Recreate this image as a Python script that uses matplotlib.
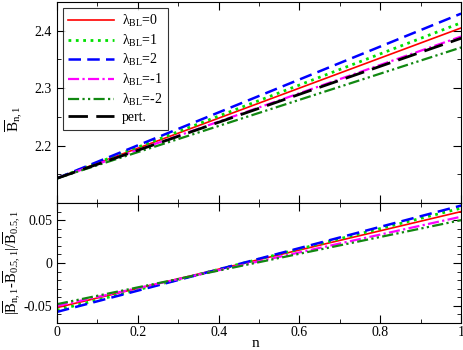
import matplotlib
matplotlib.use("Agg")
import matplotlib.pyplot as plt
from matplotlib.ticker import MultipleLocator, FixedLocator

plt.rcParams['font.family'] = ['Liberation Serif', 'DejaVu Serif']
plt.rcParams['mathtext.fontset'] = 'custom'
plt.rcParams['mathtext.rm'] = 'Liberation Serif'
plt.rcParams['mathtext.it'] = 'Liberation Serif:italic'
plt.rcParams['font.size'] = 10

# n values (endpoints, lines are straight)
n = [0.0, 1.0]

labels = ['λ$_{\\rm BL}$=0', 'λ$_{\\rm BL}$=1', 'λ$_{\\rm BL}$=2',
          'λ$_{\\rm BL}$=-1', 'λ$_{\\rm BL}$=-2', 'pert.']
colors = ['#ff0000', '#00e000', '#0000ff', '#ff00ff', '#118811', '#000000']
styles = ['-', ':', (0, (5, 2.5)), (0, (5, 1.5, 1, 1.5)),
          (0, (5, 1.5, 1, 1.5, 1, 1.5)), (0, (7, 3))]
widths = [1.2, 2.0, 1.8, 1.6, 1.6, 2.0]

# top panel: B_{n,1}
b_lam0 = [2.143, 2.405]
b_lam1 = [2.143, 2.414]
b_lam2 = [2.143, 2.430]
b_lamm1 = [2.143, 2.390]
b_lamm2 = [2.143, 2.371]
b_pert = [2.143, 2.387]

# bottom panel: relative difference
r_lam0 = [-0.052, 0.060]
r_lam1 = [-0.055, 0.064]
r_lam2 = [-0.057, 0.067]
r_lamm1 = [-0.050, 0.054]
r_lamm2 = [-0.048, 0.050]

top_data = [b_lam0, b_lam1, b_lam2, b_lamm1, b_lamm2, b_pert]
bot_data = [r_lam0, r_lam1, r_lam2, r_lamm1, r_lamm2]

fig = plt.figure(figsize=(4.63, 3.5), dpi=100)
ax1 = fig.add_axes([0.123, 0.42, 0.873, 0.574])
ax2 = fig.add_axes([0.123, 0.077, 0.873, 0.343])

for i in range(len(top_data)):
    ax1.plot(n, top_data[i], color=colors[i], linestyle=styles[i],
             linewidth=widths[i], label=labels[i])
for i in range(len(bot_data)):
    ax2.plot(n, bot_data[i], color=colors[i], linestyle=styles[i],
             linewidth=widths[i])

for ax in (ax1, ax2):
    ax.set_xlim(0, 1)
    ax.xaxis.set_major_locator(FixedLocator([0, 0.2, 0.4, 0.6, 0.8, 1.0]))
    ax.xaxis.set_minor_locator(MultipleLocator(0.1))
    ax.tick_params(which='both', direction='in', top=True, right=True)
    ax.tick_params(which='major', length=6)
    ax.tick_params(which='minor', length=3)

ax1.set_ylim(2.1, 2.45)
ax1.yaxis.set_major_locator(FixedLocator([2.2, 2.3, 2.4]))
ax1.yaxis.set_minor_locator(MultipleLocator(0.05))
ax1.set_xticklabels([])
ax1.set_ylabel(r'$\overline{\rm B}_{\rm n,1}$', fontsize=11)
ax1.yaxis.set_label_coords(-0.08, 0.42)

ax2.set_ylim(-0.07, 0.07)
ax2.yaxis.set_major_locator(FixedLocator([-0.05, 0, 0.05]))
ax2.yaxis.set_minor_locator(MultipleLocator(0.01))
ax2.set_yticklabels(['-0.05', '0', '0.05'])
ax2.set_xticklabels(['0', '0.2', '0.4', '0.6', '0.8', '1'])
ax2.tick_params(axis='x', pad=2)
ax2.set_xlabel('n', fontsize=11)
ax2.xaxis.set_label_coords(0.49, -0.115)
ax2.set_ylabel(r'$|\overline{\rm B}_{\rm n,1}$-$\overline{\rm B}_{\rm 0.5,1}|/\overline{\rm B}_{\rm 0.5,1}$',
               fontsize=10.5)
ax2.yaxis.set_label_coords(-0.084, 0.5)

leg = ax1.legend(loc='upper left', fancybox=False, edgecolor='black',
                 handlelength=3.3, labelspacing=0.25, borderaxespad=0.4,
                 handletextpad=0.6)
leg.get_frame().set_linewidth(0.8)

fig.savefig('out.png', dpi=100)
